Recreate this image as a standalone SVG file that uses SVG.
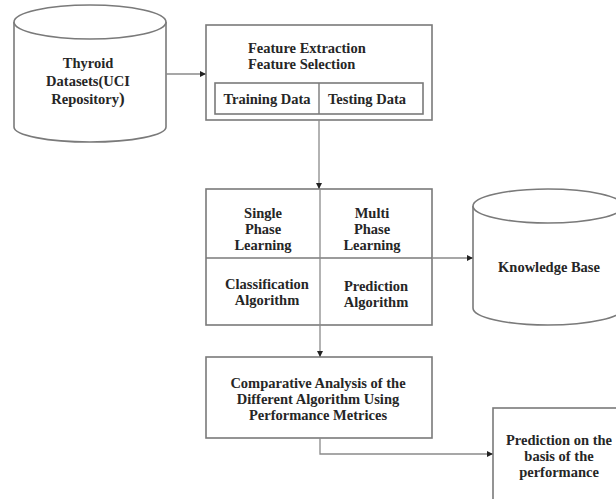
<svg xmlns="http://www.w3.org/2000/svg" width="616" height="499" viewBox="0 0 616 499">
  <defs>
    <marker id="arrow" markerWidth="6" markerHeight="6" refX="5" refY="3" orient="auto" markerUnits="userSpaceOnUse">
      <path d="M0,0 L6,3 L0,6 Z" fill="#222"/>
    </marker>
    <style>
      .shape { fill: #fff; stroke: #7a7a7a; stroke-width: 1.6; }
      .line { fill: none; stroke: #7a7a7a; stroke-width: 1.4; }
      .conn { fill: none; stroke: #8a8a8a; stroke-width: 1.3; }
      text { font-family: "Liberation Serif", "Times New Roman", serif; font-weight: bold; font-size: 14.5px; fill: #262626; }
      .c { text-anchor: middle; }
    </style>
  </defs>
  <rect width="616" height="499" fill="#fff"/>

  <!-- data source cylinder -->
  <g id="thyroid-datasets">
    <path class="shape" d="M14,22 L14,127 A76,15 0 0 0 166,127 L166,22"/>
    <ellipse class="shape" cx="90" cy="22" rx="76" ry="17"/>
    <text class="c" x="88" y="68">Thyroid</text>
    <text class="c" x="88" y="86">Datasets(UCI</text>
    <text class="c" x="88" y="104">Repository<tspan font-size="17">)</tspan></text>
  </g>

  <!-- feature extraction / selection box -->
  <g id="feature-box">
    <rect class="shape" x="206" y="25" width="226" height="95"/>
    <text x="248" y="53">Feature Extraction</text>
    <text x="248" y="69">Feature Selection</text>
    <rect class="shape" x="215" y="83" width="208" height="31"/>
    <line class="line" x1="319" y1="83" x2="319" y2="114"/>
    <text class="c" x="267" y="104">Training Data</text>
    <text class="c" x="367" y="104">Testing Data</text>
  </g>

  <!-- learning / algorithm grid -->
  <g id="learning-grid">
    <rect class="shape" x="206" y="189" width="226" height="136"/>
    <line class="line" x1="206" y1="258" x2="432" y2="258"/>
    <text class="c" x="263" y="218">Single</text>
    <text class="c" x="263" y="234">Phase</text>
    <text class="c" x="263" y="250">Learning</text>
    <text class="c" x="372" y="218">Multi</text>
    <text class="c" x="372" y="234">Phase</text>
    <text class="c" x="372" y="250">Learning</text>
    <text class="c" x="267" y="289">Classification</text>
    <text class="c" x="267" y="305">Algorithm</text>
    <text class="c" x="376" y="291">Prediction</text>
    <text class="c" x="376" y="307">Algorithm</text>
  </g>

  <!-- knowledge base cylinder -->
  <g id="knowledge-base">
    <path class="shape" d="M473,206 L473,308 A75,17 0 0 0 623,308 L623,206"/>
    <ellipse class="shape" cx="548" cy="206" rx="75" ry="17"/>
    <text class="c" x="549" y="272">Knowledge Base</text>
  </g>

  <!-- comparative analysis box -->
  <g id="comparative-analysis">
    <rect class="shape" x="206" y="357" width="226" height="81"/>
    <text class="c" x="318" y="388">Comparative Analysis of the</text>
    <text class="c" x="318" y="404">Different Algorithm Using</text>
    <text class="c" x="318" y="420">Performance Metrices</text>
  </g>

  <!-- final prediction box -->
  <g id="prediction-box">
    <rect class="shape" x="493" y="408" width="130" height="100"/>
    <text class="c" x="559" y="445">Prediction on the</text>
    <text class="c" x="559" y="461">basis of the</text>
    <text class="c" x="559" y="477">performance</text>
  </g>

  <!-- connectors -->
  <g id="connectors">
    <line class="conn" x1="166" y1="74" x2="205" y2="74" marker-end="url(#arrow)"/>
    <line class="conn" x1="319" y1="120" x2="319" y2="188" marker-end="url(#arrow)"/>
    <line class="conn" x1="320" y1="189" x2="320" y2="325"/>
    <line class="conn" x1="432" y1="258" x2="472" y2="258" marker-end="url(#arrow)"/>
    <line class="conn" x1="320" y1="325" x2="320" y2="356" marker-end="url(#arrow)"/>
    <polyline class="conn" points="320,438 320,454 492,454" marker-end="url(#arrow)"/>
  </g>
</svg>
